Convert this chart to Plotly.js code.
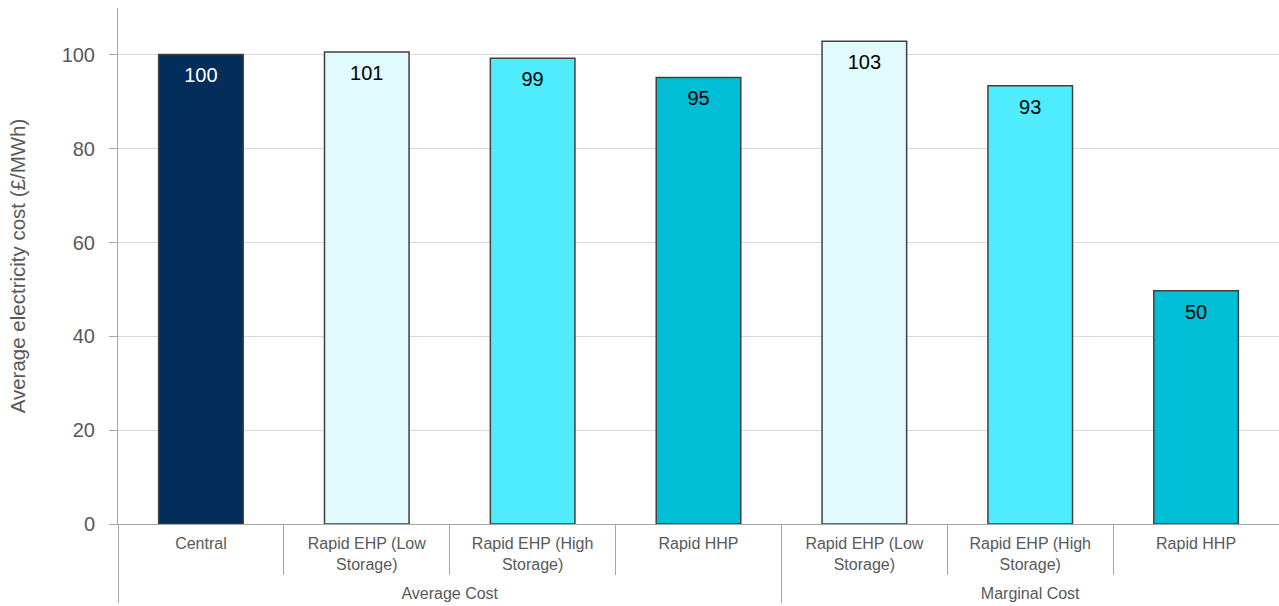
<!DOCTYPE html>
<html>
<head>
<meta charset="utf-8">
<script src="https://cdn.plot.ly/plotly-3.0.1.min.js"></script>
<style>html,body{margin:0;padding:0;background:#fff;}#chart{width:1279px;height:606px;}</style>
</head>
<body>
<div id="chart"></div>
<script>
const groups = ["Average Cost","Average Cost","Average Cost","Average Cost","Marginal Cost","Marginal Cost","Marginal Cost"];
const categories = ["Central","Rapid EHP (Low<br>Storage)","Rapid EHP (High<br>Storage)","Rapid HHP","Rapid EHP (Low<br>Storage)","Rapid EHP (High<br>Storage)","Rapid HHP"];
const values = [100.1, 100.6, 99.3, 95.2, 102.9, 93.4, 49.7];
const labels = ["100","101","99","95","103","93","50"];
const barColors = ["#032D5A","#E0FAFD","#4FECFE","#00BED6","#E0FAFD","#4FECFE","#00BED6"];
const labelColors = ["#FFFFFF","#000000","#000000","#000000","#000000","#000000","#000000"];

const FONT = "Liberation Sans, Arial, sans-serif";
const AXIS_GREY = "#A6A6A6";

// category slots (repeated category names live in different groups)
const slots = categories.map((c, i) => i);
const xRange = [-0.5, categories.length - 0.5];

// group names, their centre slots, and the boundaries between / around slots
const groupNames = [];
const groupMembers = [];
groups.forEach((g, i) => {
  if (i === 0 || groups[i - 1] !== g) { groupNames.push(g); groupMembers.push([i]); }
  else groupMembers[groupMembers.length - 1].push(i);
});
const groupMid = groupMembers.map(a => (a[0] + a[a.length - 1]) / 2);
const innerBounds = [];
const groupBounds = [-0.5];
for (let i = 0; i < groups.length - 1; i++) {
  if (groups[i] === groups[i + 1]) innerBounds.push(i + 0.5);
  else groupBounds.push(i + 0.5);
}

const bars = {
  type: "bar",
  x: slots,
  y: values,
  width: 0.51,
  marker: {color: barColors, line: {color: "#404040", width: 1.5}},
  hoverinfo: "y",
  showlegend: false
};
const text = {
  type: "scatter",
  mode: "markers+text",
  xaxis: "x2",
  x: slots,
  y: values,
  text: labels,
  textposition: "bottom center",
  textfont: {family: FONT, size: 20, color: labelColors},
  marker: {size: 19, color: "rgba(0,0,0,0)"},
  hoverinfo: "skip",
  showlegend: false
};

const layout = {
  width: 1279, height: 606,
  margin: {l: 118, r: 0, t: 8, b: 82},
  paper_bgcolor: "#fff", plot_bgcolor: "#fff",
  font: {family: FONT, color: "#595959"},
  showlegend: false,
  xaxis: {
    type: "linear", range: xRange, automargin: false,
    tickmode: "array", tickvals: slots, ticktext: categories,
    ticks: "", ticklabelstandoff: 5,
    minor: {tickmode: "array", tickvals: innerBounds, ticks: "outside", ticklen: 50, tickcolor: AXIS_GREY, tickwidth: 1, showgrid: false},
    showline: true, linecolor: AXIS_GREY, linewidth: 1,
    tickfont: {family: FONT, size: 16, color: "#595959"},
    showgrid: false, zeroline: false, fixedrange: true
  },
  xaxis2: {
    overlaying: "x", anchor: "y", side: "bottom",
    type: "linear", range: xRange, automargin: false,
    tickmode: "array", tickvals: groupMid, ticktext: groupNames,
    ticks: "", ticklabelstandoff: 58,
    minor: {tickmode: "array", tickvals: groupBounds, ticks: "outside", ticklen: 78, tickcolor: AXIS_GREY, tickwidth: 1, showgrid: false},
    tickfont: {family: FONT, size: 16, color: "#595959"},
    showgrid: false, zeroline: false, showline: false, fixedrange: true
  },
  yaxis: {
    range: [0, 110],
    automargin: false,
    tickvals: [0,20,40,60,80,100],
    ticktext: ["0","20","40","60","80","100"],
    showgrid: true, gridcolor: "#D9D9D9", gridwidth: 1,
    zeroline: false,
    showline: true, linecolor: AXIS_GREY, linewidth: 1,
    ticks: "outside", ticklen: 8, tickcolor: AXIS_GREY,
    ticklabelstandoff: 10,
    tickfont: {family: FONT, size: 20, color: "#595959"},
    title: {text: "Average electricity cost (£/MWh)", font: {family: FONT, size: 20.5, color: "#595959"}, standoff: 30},
    fixedrange: true
  }
};

Plotly.newPlot("chart", [bars, text], layout, {displayModeBar: false, staticPlot: true});
</script>
</body>
</html>
